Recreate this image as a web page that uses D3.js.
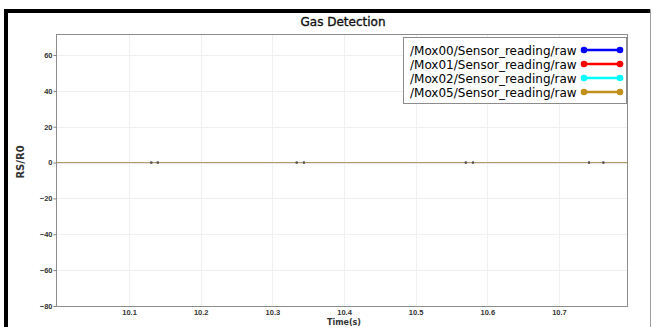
<!DOCTYPE html>
<html>
<head>
<meta charset="utf-8">
<script src="https://cdn.jsdelivr.net/npm/d3@7"></script>
<style>
  html, body { margin: 0; padding: 0; background: #fff; }
  svg { display: block; font-family: "DejaVu Sans", sans-serif; }
</style>
</head>
<body>
<svg id="chart" width="652" height="327"></svg>
<script>
// Sensor traces (time in seconds, RS/R0 ratio)
const seriesNames = [
  "/Mox00/Sensor_reading/raw",
  "/Mox01/Sensor_reading/raw",
  "/Mox02/Sensor_reading/raw",
  "/Mox05/Sensor_reading/raw"
];
const seriesColors = ["#0000ff", "#ff0000", "#00ffff", "#c0901a"];
const traceOpacity = [0.25, 0.25, 0.25, 0.6];
const mox00Times = [9.93, 10.131, 10.334, 10.570, 10.742, 10.93];
const mox00Values = [0, 0, 0, 0, 0, 0];
const mox01Times = [9.93, 10.140, 10.344, 10.580, 10.762, 10.93];
const mox01Values = [0, 0, 0, 0, 0, 0];
const mox02Times = [9.93, 10.131, 10.334, 10.570, 10.742, 10.93];
const mox02Values = [0, 0, 0, 0, 0, 0];
const mox05Times = [9.93, 10.140, 10.344, 10.580, 10.762, 10.93];
const mox05Values = [0, 0, 0, 0, 0, 0];
const xTicks = [10.1, 10.2, 10.3, 10.4, 10.5, 10.6, 10.7];
const yTicks = [-80, -60, -40, -20, 0, 20, 40, 60];
const xDomain = [9.998, 10.795];
const yDomain = [-80, 71.7];

const seriesTimes = [mox00Times, mox01Times, mox02Times, mox05Times];
const seriesValues = [mox00Values, mox01Values, mox02Values, mox05Values];
const series = seriesNames.map((name, i) => ({
  name, color: seriesColors[i], opacity: traceOpacity[i],
  points: seriesTimes[i].map((t, j) => ({ t, v: seriesValues[i][j] }))
}));

const svg = d3.select("#chart");
const W = 652, H = 327;
const plot = { left: 56, right: 627, top: 34, bottom: 306 };

// Widget frame
svg.append("rect").attr("x", 4).attr("y", 9).attr("width", 4).attr("height", H - 9).attr("fill", "#000");
svg.append("rect").attr("x", 4).attr("y", 9).attr("width", W - 5).attr("height", 4).attr("fill", "#000");
svg.append("line").attr("x1", 650.5).attr("x2", 650.5).attr("y1", 9).attr("y2", H)
  .attr("stroke", "#a0a0a0").attr("stroke-width", 1);

const x = d3.scaleLinear().domain(xDomain).range([plot.left, plot.right]);
const y = d3.scaleLinear().domain(yDomain).range([plot.bottom, plot.top]);

// Grid
const grid = svg.append("g");
grid.selectAll(".gx").data(xTicks).join("line")
  .attr("x1", d => Math.round(x(d)) + 0.5).attr("x2", d => Math.round(x(d)) + 0.5)
  .attr("y1", plot.top).attr("y2", plot.bottom)
  .attr("stroke", "#f0f0f0").attr("stroke-width", 1.2);
grid.selectAll(".gy").data(yTicks).join("line")
  .attr("y1", d => Math.round(y(d)) + 0.5).attr("y2", d => Math.round(y(d)) + 0.5)
  .attr("x1", plot.left).attr("x2", plot.right)
  .attr("stroke", "#f0f0f0").attr("stroke-width", 1.2);

// Axes
const xAxis = d3.axisBottom(x).tickValues(xTicks).tickSize(0).tickPadding(3).tickFormat(d3.format(".1f"));
const yAxis = d3.axisLeft(y).tickValues(yTicks).tickSize(3).tickPadding(1).tickFormat(d3.format("d"));
const gx = svg.append("g").attr("transform", `translate(0,${plot.bottom + 0.5})`).call(xAxis);
const gy = svg.append("g").attr("transform", `translate(${plot.left + 0.5},0)`).call(yAxis);
[gx, gy].forEach(g => {
  g.select(".domain").remove();
  g.selectAll("line").attr("stroke", "#808080");
  g.selectAll("text").attr("fill", "#333").style("font-size", "7.5px").style("font-weight", "bold");
});

// Plot frame
svg.append("rect")
  .attr("x", plot.left + 0.5).attr("y", plot.top + 0.5)
  .attr("width", plot.right - plot.left).attr("height", plot.bottom - plot.top)
  .attr("fill", "none").attr("stroke", "#8c8c8c").attr("stroke-width", 1);

// Traces
svg.append("clipPath").attr("id", "clip").append("rect")
  .attr("x", plot.left + 1).attr("y", plot.top + 1)
  .attr("width", plot.right - plot.left - 1).attr("height", plot.bottom - plot.top - 1);
const traces = svg.append("g").attr("clip-path", "url(#clip)");
const line = d3.line().x(d => x(d.t)).y(d => y(d.v));
traces.selectAll(".trace").data(series).join("path")
  .attr("d", d => line(d.points))
  .attr("fill", "none").attr("stroke", d => d.color)
  .attr("stroke-width", 1).attr("stroke-opacity", d => d.opacity);
traces.selectAll(".pts").data(series).join("g")
  .selectAll("rect").data(d => d.points).join("rect")
  .attr("x", d => x(d.t) - 1).attr("y", d => y(d.v) - 1)
  .attr("width", 2).attr("height", 2).attr("fill", "#555");

// Labels
svg.append("text").attr("x", 343).attr("y", 26).attr("text-anchor", "middle")
  .style("font-size", "12px").attr("fill", "#111")
  .attr("stroke", "#111").attr("stroke-width", 0.35)
  .text("Gas Detection");
svg.append("text").attr("transform", "translate(24,162) rotate(-90)")
  .attr("text-anchor", "middle").style("font-size", "10px").style("font-weight", "bold")
  .attr("fill", "#333").text("RS/R0");
svg.append("text").attr("x", 344).attr("y", 325).attr("text-anchor", "middle")
  .style("font-size", "8px").style("font-weight", "bold").attr("fill", "#333")
  .text("Time(s)");

// Legend
const legend = svg.append("g");
legend.append("rect").attr("x", 403.5).attr("y", 37.5).attr("width", 223).attr("height", 66)
  .attr("fill", "#fff").attr("stroke", "#8c8c8c");
const rows = legend.selectAll(".row").data(series).join("g")
  .attr("transform", (d, i) => `translate(0,${50 + i * 14})`);
rows.append("text").attr("x", 410).attr("y", 4.5)
  .style("font-size", "12px").attr("fill", "#000").text(d => d.name);
rows.append("line").attr("x1", 584).attr("x2", 620).attr("y1", 0).attr("y2", 0)
  .attr("stroke", d => d.color).attr("stroke-width", 2.5);
rows.selectAll("circle").data(d => [584, 620].map(cx => ({ cx, color: d.color }))).join("circle")
  .attr("cx", d => d.cx).attr("cy", 0).attr("r", 3.3).attr("fill", d => d.color);
</script>
</body>
</html>
